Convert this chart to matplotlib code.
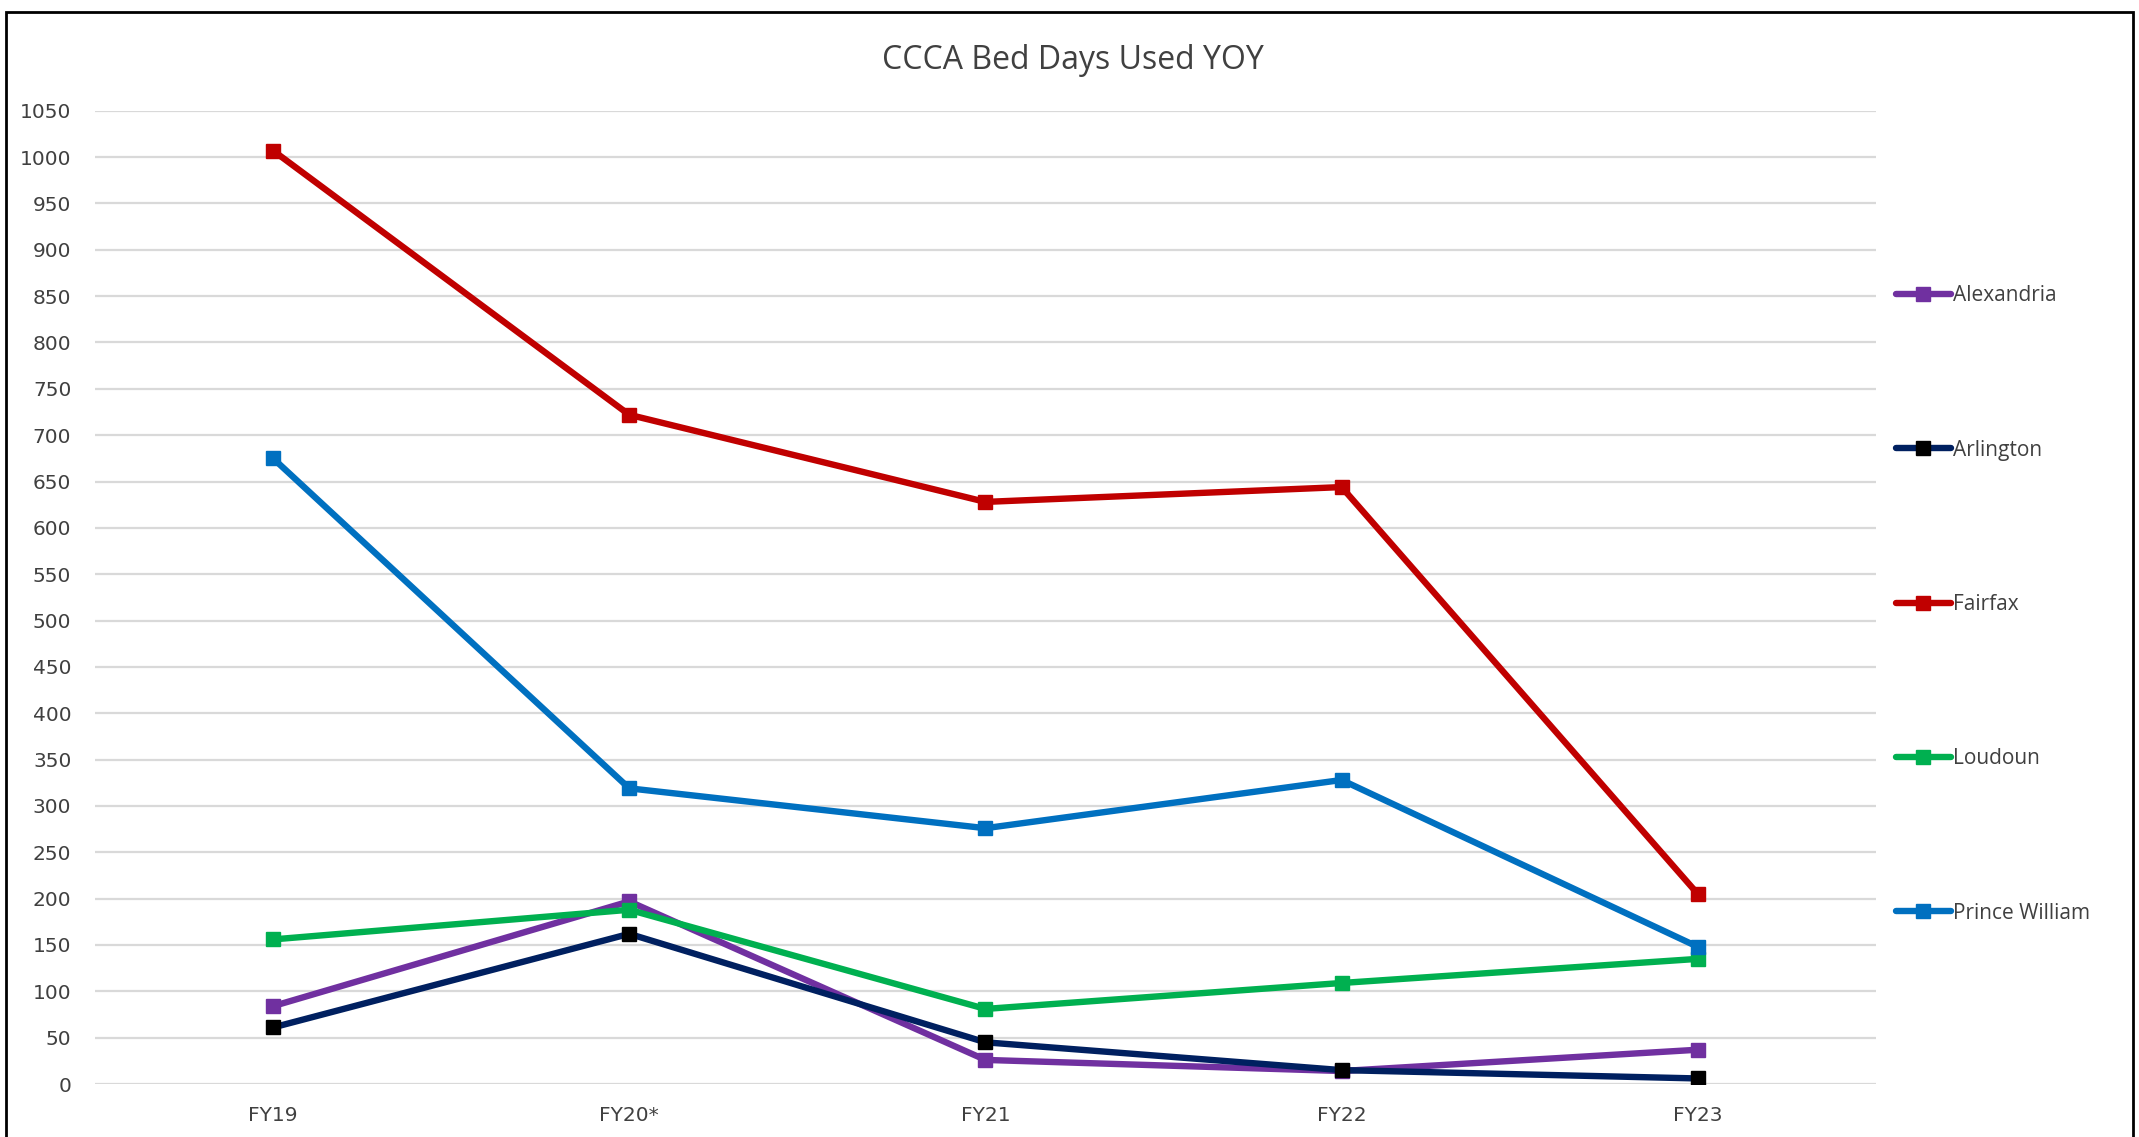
import matplotlib.pyplot as plt
from matplotlib.patches import Rectangle

# fiscal years and bed days per county
years = ["FY19", "FY20*", "FY21", "FY22", "FY23"]
alexandria = [84, 197, 26, 14, 37]
arlington = [61, 162, 45, 15, 6]
fairfax = [1007, 722, 628, 644, 205]
loudoun = [156, 188, 81, 109, 135]
prince_william = [675, 319, 276, 328, 148]

series = [
    ("Alexandria", alexandria, "#7030A0", "#7030A0"),
    ("Arlington", arlington, "#002060", "#000000"),
    ("Fairfax", fairfax, "#C00000", "#C00000"),
    ("Loudoun", loudoun, "#00B050", "#00B050"),
    ("Prince William", prince_william, "#0070C0", "#0070C0"),
]

text_col = "#404040"

fig = plt.figure(figsize=(21.39, 11.37), dpi=100)
ax = fig.add_axes([0.0444, 0.0466, 0.8326, 0.856])

x = range(len(years))
for name, vals, lc, mc in series:
    ax.plot(x, vals, color=lc, linewidth=4.6, marker="s", markersize=10.5,
            markerfacecolor=mc, markeredgecolor=mc, label=name,
            solid_joinstyle="round", solid_capstyle="round")

ax.set_xlim(-0.5, len(years) - 0.5)
ax.set_ylim(0, 1050)
ax.set_yticks(range(0, 1051, 50))
ax.set_xticks(list(x))
ax.set_xticklabels(years)
ax.grid(axis="y", color="#D9D9D9", linewidth=1.6)
ax.set_axisbelow(True)
for s in ax.spines.values():
    s.set_visible(False)
ax.tick_params(axis="both", length=0, labelcolor=text_col, labelsize=14.5)
ax.tick_params(axis="y", pad=17)
ax.tick_params(axis="x", pad=16)

fig.text(0.5017, 0.947, "CCCA Bed Days Used YOY", ha="center", va="center",
         fontsize=23, color=text_col, family=["Open Sans", "DejaVu Sans"])

leg = fig.legend(loc="upper left", bbox_to_anchor=(0.8775, 0.7655), frameon=False,
                 handlelength=2.65, handletextpad=0.1, labelspacing=6.4,
                 prop={"family": ["Open Sans", "DejaVu Sans"], "size": 15},
                 labelcolor=text_col)

fig.patches.append(Rectangle((0.003, -0.01), 0.994, 0.9994,
                             transform=fig.transFigure, fill=False,
                             edgecolor="black", linewidth=2))

fig.savefig("out.png", dpi=100)
